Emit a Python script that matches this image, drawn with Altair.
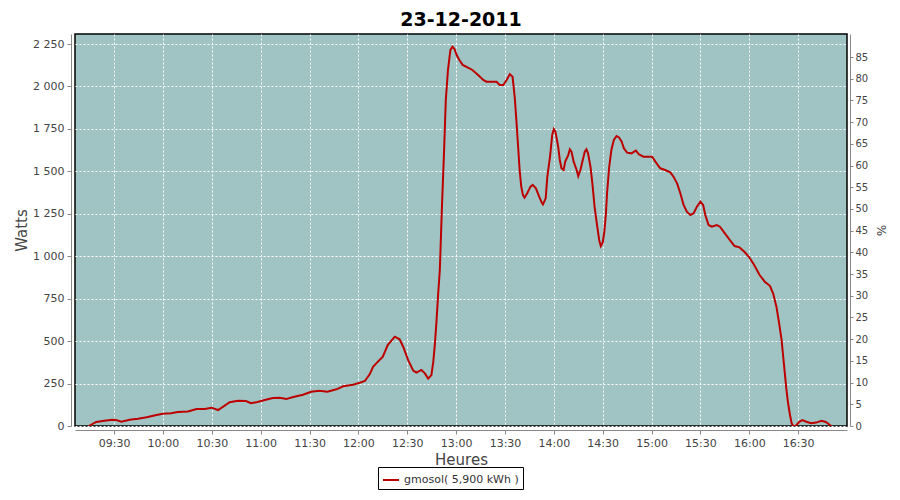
import altair as alt
import pandas as pd

times = ["09:14:30","09:19:00","09:24:00","09:29:00","09:31:00","09:34:30","09:39:30","09:44:40","09:50:00","09:56:00",
"10:00:00","10:05:00","10:09:00","10:15:20","10:20:40","10:25:40","10:29:50","10:33:50","10:37:00","10:41:00",
"10:46:00","10:51:00","10:54:00","10:58:00","11:02:30","11:07:30","11:11:40","11:15:50","11:20:00","11:26:00",
"11:31:00","11:36:00","11:41:00","11:46:30","11:50:40","11:56:40","12:00:50","12:04:00","12:07:00","12:09:00",
"12:12:00","12:15:00","12:18:00","12:22:20","12:25:20","12:27:30","12:30:30","12:33:40","12:35:40","12:38:40",
"12:40:50","12:42:50","12:44:50","12:46:00","12:47:00","12:48:00","12:49:00","12:50:00","12:51:20","12:52:40",
"12:53:40","12:55:00","12:56:30","12:57:45","12:59:00","13:00:20","13:02:00","13:04:00","13:07:00","13:10:00",
"13:13:30","13:16:40","13:18:40","13:24:50","13:26:50","13:29:00","13:31:00","13:33:00","13:34:40","13:36:00",
"13:37:00","13:38:00","13:39:00","13:40:00","13:41:00","13:42:00","13:43:40","13:45:40","13:47:00","13:49:00",
"13:51:00","13:52:20","13:53:20","13:55:00","13:56:00","13:57:40","13:59:00","14:00:00","14:01:00","14:02:40",
"14:03:40","14:04:40","14:06:00","14:07:00","14:08:50","14:09:50","14:10:50","14:12:10","14:14:00","14:15:00",
"14:16:20","14:18:00","14:19:00","14:20:00","14:21:00","14:22:30","14:23:40","14:25:00","14:26:40","14:27:50",
"14:28:50","14:30:00","14:31:00","14:32:00","14:32:40","14:34:00","14:35:20","14:36:50","14:38:30","14:40:00",
"14:41:40","14:43:00","14:45:00","14:47:40","14:50:20","14:52:20","14:55:00","15:00:20","15:02:20","15:05:20",
"15:08:20","15:11:30","15:13:30","15:15:40","15:17:40","15:19:40","15:21:40","15:23:50","15:25:50","15:27:50",
"15:30:00","15:31:40","15:33:00","15:35:00","15:37:00","15:40:00","15:42:00","15:45:00","15:48:00","15:51:00",
"15:54:00","15:57:00","16:00:00","16:03:00","16:06:20","16:09:30","16:12:40","16:14:40","16:16:40","16:18:20",
"16:19:50","16:20:50","16:21:50","16:22:50","16:23:50","16:25:00","16:26:00","16:27:00","16:28:40","16:30:40",
"16:32:40","16:35:00","16:38:00","16:41:00","16:44:20","16:47:00","16:49:30","16:50:30"]

watts = [0,24,31,37,36,25,37,43,51,65,
72,75,82,86,100,100,108,94,114,140,
149,147,134,141,153,165,167,159,171,184,
202,208,202,216,234,243,255,265,306,349,
379,408,477,526,511,467,389,326,314,330,
310,279,300,379,487,624,781,919,1300,1636,
1920,2097,2215,2234,2221,2185,2156,2127,2113,2097,
2068,2038,2028,2028,2008,2008,2038,2073,2057,1935,
1800,1655,1508,1410,1361,1345,1371,1410,1420,1400,
1351,1321,1305,1341,1468,1586,1714,1749,1733,1645,
1567,1518,1508,1557,1596,1630,1616,1557,1508,1472,
1508,1577,1616,1630,1606,1527,1429,1292,1174,1096,
1060,1080,1144,1253,1371,1527,1626,1685,1708,1700,
1675,1636,1610,1606,1622,1600,1586,1586,1557,1518,
1508,1494,1468,1429,1371,1302,1262,1243,1253,1292,
1321,1302,1243,1184,1174,1184,1174,1135,1096,1060,
1052,1026,994,948,889,850,826,780,703,605,
507,408,310,212,134,65,16,0,2,25,
35,25,16,20,31,24,6,0]

series_name = "gmosol( 5,900 kWh )"
watt_ticks = [0, 250, 500, 750, 1000, 1250, 1500, 1750, 2000, 2250]
pct_ticks = [0, 5, 10, 15, 20, 25, 30, 35, 40, 45, 50, 55, 60, 65, 70, 75, 80, 85]
hour_ticks = ["09:30","10:00","10:30","11:00","11:30","12:00","12:30","13:00",
              "13:30","14:00","14:30","15:00","15:30","16:00","16:30"]

DAY = "2011-12-23T"
df = pd.DataFrame({"t": [DAY + s for s in times], "w": watts, "s": series_name})
pct_df = pd.DataFrame({"p": pct_ticks})

def dt(hm):
    h, m = hm.split(":")
    return alt.DateTime(year=2011, month=12, date=23, hours=int(h), minutes=int(m))

font = "DejaVu Sans"
lab_col = "#444444"

x = alt.X("t:T",
          scale=alt.Scale(domain=[alt.DateTime(year=2011, month=12, date=23, hours=9, minutes=6),
                                  alt.DateTime(year=2011, month=12, date=23, hours=17, minutes=0)]),
          axis=alt.Axis(title="Heures", format="%H:%M", values=[dt(h) for h in hour_ticks],
                        offset=4, grid=True, gridColor="white", gridDash=[2, 2], gridWidth=1,
                        domainColor="#888888", tickColor="#888888", tickSize=4,
                        labelFont=font, labelFontSize=11, labelColor=lab_col, labelPadding=3,
                        titleFont=font, titleFontSize=15, titleFontWeight="normal",
                        titleColor=lab_col, titlePadding=4))

line = alt.Chart(df).mark_line(strokeWidth=2, clip=True).encode(
    x=x,
    y=alt.Y("w:Q", scale=alt.Scale(domain=[0, 2309], nice=False),
            axis=alt.Axis(title="Watts", values=watt_ticks,
                          labelExpr="replace(format(datum.value, ',d'), ',', ' ')",
                          offset=4, grid=True, gridColor="white", gridDash=[2, 2], gridWidth=1,
                          domainColor="#888888", tickColor="#888888", tickSize=4,
                          labelFont=font, labelFontSize=11, labelColor=lab_col, labelPadding=3,
                          titleFont=font, titleFontSize=15, titleFontWeight="normal",
                          titleColor=lab_col, titlePadding=3)),
    color=alt.Color("s:N", scale=alt.Scale(range=["#BC0000"]),
                    legend=alt.Legend(title=None, orient="none", legendX=303, legendY=433,
                                      strokeColor="black", fillColor="white", padding=4,
                                      symbolType="stroke", symbolSize=256, symbolStrokeWidth=2,
                                      labelFont=font, labelFontSize=11, labelColor="#333333"))
)

right = alt.Chart(pct_df).mark_tick(opacity=0).encode(
    y=alt.Y("p:Q", scale=alt.Scale(domain=[0, 90.3], nice=False),
            axis=alt.Axis(title="%", orient="right", values=pct_ticks, grid=False, offset=3,
                          domainColor="#888888", tickColor="#888888", tickSize=3,
                          labelFont=font, labelFontSize=10, labelColor=lab_col, labelPadding=2,
                          titleFont=font, titleFontSize=12, titleFontWeight="normal",
                          titleColor=lab_col, titlePadding=6))
)

chart = alt.layer(line, right).resolve_scale(y="independent").properties(
    width=772, height=392,
    title=alt.TitleParams("23-12-2011", font=font, fontSize=19, fontWeight="bold",
                          color="black", offset=4, anchor="middle"),
    autosize=alt.AutoSizeParams(type="none"),
    padding={"left": 67, "top": 26, "right": 45, "bottom": 66},
    background="white",
).configure_view(fill="#A0C4C4", stroke="black", strokeWidth=1.5)

chart.save("out.html", embed_options={"renderer": "svg", "actions": False})
